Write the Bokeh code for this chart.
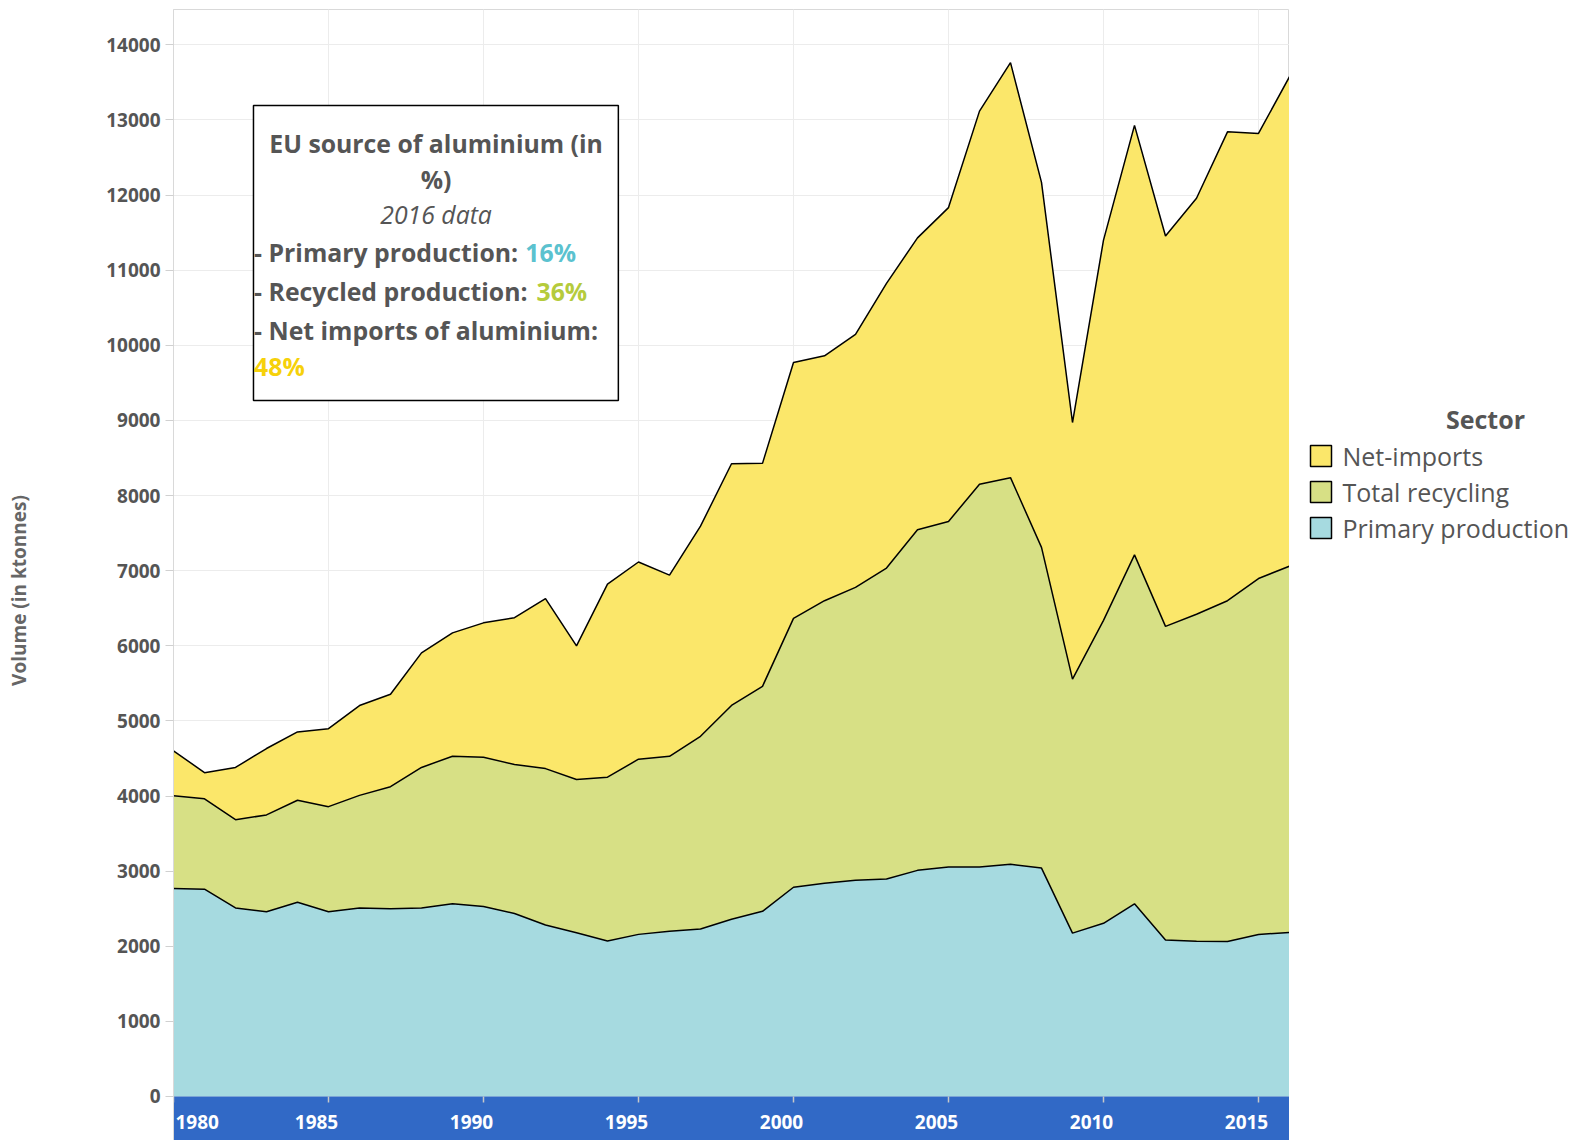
import math
from bokeh.plotting import figure
from bokeh.layouts import row
from bokeh.models import (ColumnDataSource, Range1d, FixedTicker, Grid, BoxAnnotation,
                          Label)
from bokeh.core.properties import value
from bokeh.embed import file_html
from bokeh.resources import INLINE

# ---------------- data (ktonnes) ----------------
years = list(range(1980, 2017))
primary = [2770, 2760, 2510, 2458, 2585, 2458, 2510, 2500, 2510, 2565,
           2530, 2435, 2283, 2180, 2070, 2158, 2200, 2230, 2360, 2465,
           2785, 2840, 2880, 2895, 3010, 3055, 3055, 3090, 3040, 2175,
           2305, 2565, 2082, 2068, 2062, 2155, 2185]
recycling = [1232, 1202, 1174, 1290, 1359, 1400, 1498, 1624, 1870, 1965,
             1985, 1985, 2082, 2040, 2180, 2332, 2328, 2565, 2845, 2995,
             3580, 3760, 3897, 4140, 4535, 4600, 5095, 5148, 4270, 3380,
             4033, 4645, 4176, 4352, 4538, 4740, 4875]
net_imports = [600, 349, 696, 884, 909, 1038, 1196, 1230, 1525, 1642,
               1790, 1954, 2262, 1778, 2570, 2625, 2412, 2797, 3218, 2968,
               3405, 3260, 3368, 3790, 3885, 4178, 4967, 5524, 4858, 3417,
               5062, 5718, 5196, 5538, 6241, 5925, 6515]

series_labels = ["Net-imports", "Total recycling", "Primary production"]
tick_years = [1980, 1985, 1990, 1995, 2000, 2005, 2010, 2015]
tick_labels = [str(y) for y in tick_years]
y_ticks = list(range(0, 15000, 1000))

C_PRIM = "#A6DAE0"
C_RECY = "#D7E085"
C_IMP = "#FBE76A"
BAND = "#3169C6"
GREY = "#555555"
FONT = "Open Sans"

Y_MIN, Y_MAX = -586, 14470
TOP = 9
FRAME_H = 1131
FIG_H = FRAME_H + TOP
LEFT_W = 48
FRAME_L = 173
FRAME_R = 1289
PAGE_R = 1572

src = ColumnDataSource(dict(year=years, primary=primary, recycling=recycling,
                            net_imports=net_imports))

def blank_panel(x0, x1):
    f = figure(frame_width=x1 - x0, frame_height=FRAME_H, title=None,
               x_range=Range1d(x0, x1), y_range=Range1d(FIG_H, TOP),
               output_backend="svg", toolbar_location=None,
               x_axis_location=None, y_axis_location=None, min_border=0,
               min_border_top=TOP, background_fill_color="white",
               border_fill_color="white")
    f.outline_line_color = None
    f.grid.visible = False
    return f

# ---------------- left panel: axis title ----------------
lp = blank_panel(0, LEFT_W)
lp.text(x=[18.5], y=[590], text=["Volume (in ktonnes)"], angle=math.pi / 2,
        text_align="center", text_baseline="middle", text_color="#666666",
        text_font=value(FONT), text_font_style="bold", text_font_size="19px")

# ---------------- main plot ----------------
p = figure(frame_width=FRAME_R - FRAME_L, frame_height=FRAME_H, title=None,
           x_range=Range1d(1980, 2016), y_range=Range1d(Y_MIN, Y_MAX),
           output_backend="svg", toolbar_location=None, x_axis_location=None,
           min_border_left=FRAME_L - LEFT_W, min_border_right=0, min_border_top=TOP,
           min_border_bottom=0, background_fill_color="white",
           border_fill_color="white")
p.outline_line_color = "#d9d9d9"

p.ygrid.ticker = FixedTicker(ticks=y_ticks)
p.ygrid.grid_line_color = "#ececec"
p.add_layout(Grid(dimension=0, ticker=FixedTicker(ticks=tick_years),
                  grid_line_color="#ececec"))

ax = p.yaxis[0]
ax.ticker = FixedTicker(ticks=y_ticks)
ax.major_label_text_font = FONT
ax.major_label_text_font_style = "bold"
ax.major_label_text_font_size = "19px"
ax.major_label_text_color = GREY
ax.major_tick_out = 8
ax.major_tick_in = 0
ax.minor_tick_line_color = None
ax.major_tick_line_color = "#d0d0d0"
ax.axis_line_color = "#d9d9d9"

stackers = ["primary", "recycling", "net_imports"]
p.varea_stack(stackers=stackers, x="year", color=[C_PRIM, C_RECY, C_IMP], source=src)
p.vline_stack(stackers=stackers, x="year", color="black", line_width=1.5, source=src)

# blue x-axis band
p.quad(left=[years[0]], right=[years[-1]], bottom=[Y_MIN], top=[0],
       fill_color=BAND, line_color=None)
p.segment(x0=tick_years, x1=tick_years, y0=[0] * len(tick_years),
          y1=[-80] * len(tick_years), line_color="#c8c8c8", line_width=1.5)
LBL_Y = -346
p.text(x=tick_years[:1], y=[LBL_Y], text=tick_labels[:1], text_align="left",
       text_baseline="middle", x_offset=2, text_color="white",
       text_font=value(FONT), text_font_style="bold", text_font_size="19px")
p.text(x=tick_years[1:], y=[LBL_Y] * (len(tick_years) - 1), text=tick_labels[1:],
       text_align="center", text_baseline="middle", x_offset=-12, text_color="white",
       text_font=value(FONT), text_font_style="bold", text_font_size="19px")

# annotation box
p.add_layout(BoxAnnotation(left=1982.58, right=1994.35, top=13192, bottom=9265,
                           fill_color="white", fill_alpha=1.0, line_color="black",
                           line_alpha=1.0, line_width=1.5, level="annotation"))

def lab(x, y, text, color=GREY, style="bold", align="left"):
    p.add_layout(Label(x=x, y=y, text=text, text_align=align, text_baseline="middle",
                       text_font=FONT, text_font_style=style, text_font_size="24.8px",
                       text_color=color))

lab(1988.47, 12693, "EU source of aluminium (in", align="center")
lab(1988.47, 12220, "%)", align="center")
lab(1988.47, 11748, "2016 data", style="italic", align="center")
lab(1982.6, 11242, "- Primary production:")
lab(1991.35, 11242, "16%", color="#5BC2CF")
lab(1982.6, 10716, "- Recycled production:")
lab(1991.71, 10716, "36%", color="#B5CB3C")
lab(1982.6, 10210, "- Net imports of aluminium:")
lab(1982.6, 9718, "48%", color="#F6D10A")

# ---------------- legend panel ----------------
rp = blank_panel(FRAME_R, PAGE_R)
n = len(series_labels)
item_y = [455.5 + 36 * i for i in range(n)]
rp.rect(x=[1320.5] * n, y=item_y, width=21, height=21,
        fill_color=[C_IMP, C_RECY, C_PRIM], line_color="black", line_width=1.5)
rp.text(x=[1342] * n, y=item_y, text=series_labels, text_align="left",
        text_baseline="middle", text_color=GREY, text_font=value(FONT),
        text_font_size="25px")
rp.text(x=[1485], y=[418], text=["Sector"], text_align="center",
        text_baseline="middle", text_color=GREY, text_font=value(FONT),
        text_font_style="bold", text_font_size="25px")

layout = row(lp, p, rp)
open("out.html", "w").write(file_html(layout, INLINE))
